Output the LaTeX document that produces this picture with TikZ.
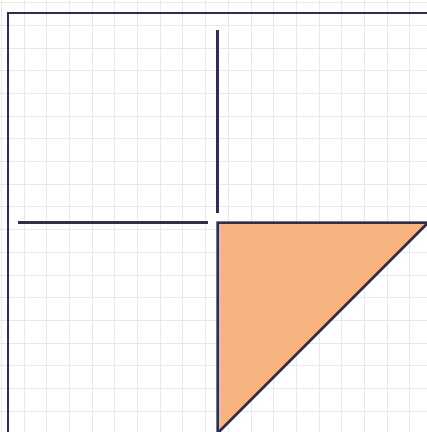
\documentclass[tikz,border=0pt]{standalone}
\begin{document}
\begin{tikzpicture}[x=1pt,y=-1pt,
  gridline/.style={draw=black!9,line width=0.9pt},
  edge/.style={draw={rgb,255:red,46;green,46;blue,82},line width=2.7pt,line cap=butt,line join=miter}]
\definecolor{tri}{RGB}{248,180,128}
\useasboundingbox (0,0) rectangle (427,432);
\fill[white] (0,0) rectangle (427,432);
\foreach \i in {0,...,18} {
  \draw[gridline] ({1.3+22.7*\i},0) -- ({1.3+22.7*\i},432);
  \draw[gridline] (0,{2.6+22.7*\i}) -- (427,{2.6+22.7*\i});
}
\coordinate (TL) at (8,13);
\coordinate (TR) at (428.2,13);
\coordinate (BR) at (428.2,433.2);
\coordinate (BL) at (8,433.2);
\coordinate (C) at (217.6,222.6);
\coordinate (R) at (428.2,222.6);
\coordinate (B) at (217.6,433.2);
\coordinate (V1) at (217.6,30);
\coordinate (V2) at (217.6,213);
\coordinate (H1) at (18,222.6);
\coordinate (H2) at (208,222.6);
\begin{scope}
\clip (0,0) rectangle (427,432);
\draw[edge] (TL) -- (TR) -- (BR) -- (BL) -- cycle;
\filldraw[edge,fill=tri] (C) -- (R) -- (B) -- cycle;
\end{scope}
\draw[edge] (V1) -- (V2);
\draw[edge] (H1) -- (H2);
\end{tikzpicture}
\end{document}
